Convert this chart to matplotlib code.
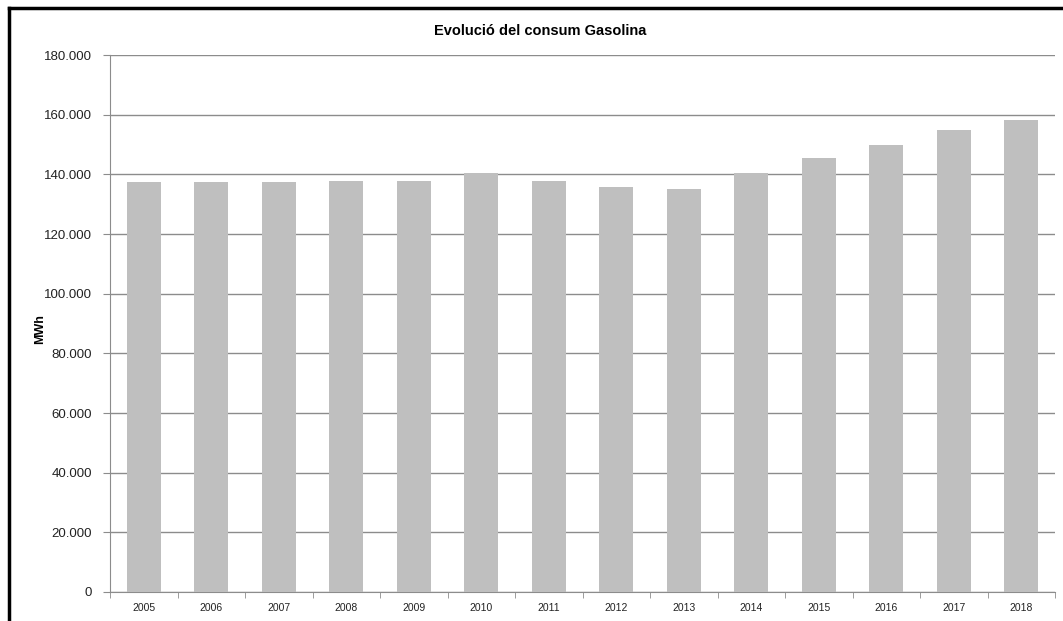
import matplotlib
matplotlib.use("Agg")
import matplotlib.pyplot as plt
from matplotlib.lines import Line2D
from matplotlib.ticker import FuncFormatter, FixedLocator
import numpy as np

years = ["2005", "2006", "2007", "2008", "2009", "2010", "2011",
         "2012", "2013", "2014", "2015", "2016", "2017", "2018"]
consum = [137400, 137400, 137400, 137900, 137900, 140500, 137900,
          135600, 135200, 140400, 145600, 149700, 154900, 158200]

plt.rcParams['font.family'] = ['Liberation Sans', 'DejaVu Sans']

fig = plt.figure(figsize=(10.63, 6.21), dpi=100)
ax = fig.add_axes([0.1035, 0.0467, 0.889, 0.8647])

x = np.arange(len(years))
ax.bar(x, consum, width=0.5, color="#bfbfbf", zorder=3)

ax.set_xlim(-0.5, len(years) - 0.5)
ax.set_ylim(0, 180000)
ax.set_yticks(np.arange(0, 180001, 20000))
ax.yaxis.set_major_formatter(FuncFormatter(lambda v, p: f"{int(v):,}".replace(",", ".")))
ax.grid(axis="y", color="#8c8c8c", linewidth=1.0, zorder=0)

ax.set_xticks(x)
ax.set_xticklabels(years, fontsize=7.5, color="#222222")
ax.tick_params(axis="x", length=0, pad=8)
ax.xaxis.set_minor_locator(FixedLocator(np.arange(-0.5, len(years), 1)))
ax.tick_params(axis="x", which="minor", length=4, color="#8c8c8c")
ax.tick_params(axis="y", length=5, color="#8c8c8c", labelsize=9.5, labelcolor="#222222", pad=8)

for s in ["top", "right"]:
    ax.spines[s].set_visible(False)
for s in ["left", "bottom"]:
    ax.spines[s].set_color("#8c8c8c")

ax.set_ylabel("MWh", fontsize=9, fontweight="bold")
ax.yaxis.set_label_coords(-0.068, 0.49)
fig.text(0.508, 0.950, "Evolució del consum Gasolina", ha="center", va="center",
         fontsize=10.5, fontweight="bold")

# black frame left and top
fig.add_artist(Line2D([0.0080, 0.0080], [0.0, 0.9865], color="black", linewidth=2.5,
                      transform=fig.transFigure))
fig.add_artist(Line2D([0.0080, 1.0], [0.9865, 0.9865], color="black", linewidth=2.5,
                      transform=fig.transFigure))

fig.savefig("out.png", dpi=100)
